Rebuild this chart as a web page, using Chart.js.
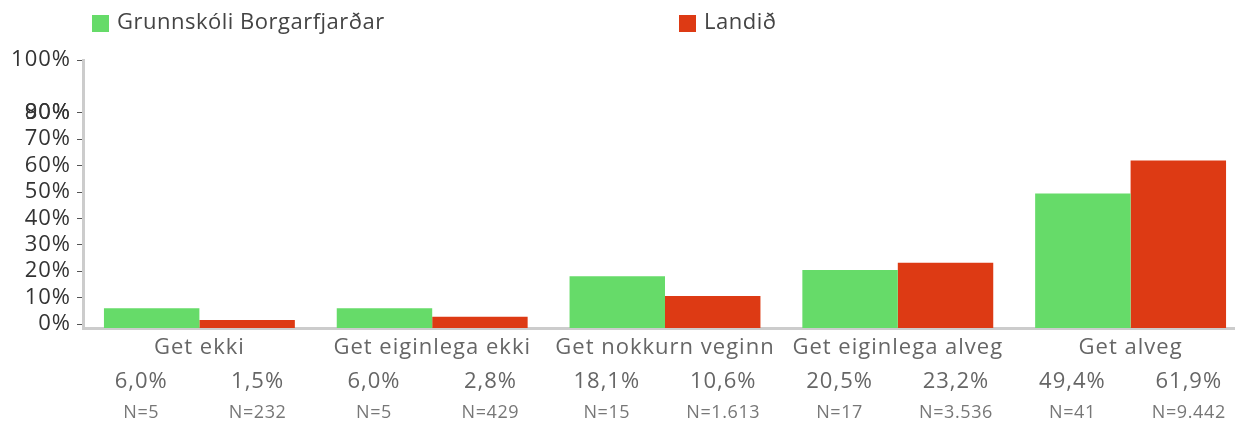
<!DOCTYPE html>
<html>
<head>
<meta charset="utf-8">
<script src="https://cdn.jsdelivr.net/npm/chart.js@4.4.1/dist/chart.umd.min.js"></script>
<style>
  html, body { margin: 0; padding: 0; background: #fff; overflow: hidden; }
  #wrap { width: 1250px; height: 421px; }
</style>
</head>
<body>
<div id="wrap"><canvas id="myChart"></canvas></div>
<script>
'use strict';

/* DATA */

const categories = ['Get ekki', 'Get eiginlega ekki', 'Get nokkurn veginn', 'Get eiginlega alveg', 'Get alveg'];
const schoolLabel = 'Grunnskóli Borgarfjarðar';
const countryLabel = 'Landið';
const schoolValues = [6.0, 6.0, 18.1, 20.5, 49.4];
const countryValues = [1.5, 2.8, 10.6, 23.2, 61.9];
const schoolN = [5, 5, 15, 17, 41];
const countryN = [232, 429, 1613, 3536, 9442];
// 90% sits on top of 80% on the axis
const yTickValues = [0, 10, 20, 30, 40, 50, 60, 70, 80, 80, 100];
const yTickLabels = ['0%', '10%', '20%', '30%', '40%', '50%', '60%', '70%', '80%', '90%', '100%'];

const GREEN = '#66db69';
const RED = '#dd3a14';
const FONT = '"Open Sans", "Noto Sans", sans-serif';

function fmtPct(v) {
  return v.toFixed(1).replace('.', ',') + '%';
}

function fmtN(n) {
  return 'N=' + String(n).replace(/\B(?=(\d{3})+(?!\d))/g, '.');
}

/* WIDER TEXT FOR AXIS LABELS */

const spacing = {
  id: 'spacing',
  beforeDraw(chart) {
    chart.ctx.letterSpacing = '1px';
  }
};

/* LABELS UNDER BARS + LEGEND */

const counts = [schoolN, countryN];

const barLabels = {
  id: 'barLabels',
  afterDraw(chart) {
    const c = chart.ctx;
    const xs = chart.scales.x;
    const quarter = xs.width / categories.length / 4;
    c.save();
    c.textAlign = 'center';
    c.textBaseline = 'middle';
    chart.data.datasets.forEach(function(ds, di) {
      const side = di === 0 ? -1 : 1;
      ds.data.forEach(function(v, i) {
        const x = xs.getPixelForValue(i) + side * quarter;
        c.letterSpacing = '1px';
        c.fillStyle = '#666';
        c.font = '22px ' + FONT;
        c.fillText(fmtPct(v), x, 382);
        c.letterSpacing = '0.6px';
        c.fillStyle = '#777';
        c.font = '18px ' + FONT;
        c.fillText(fmtN(counts[di][i]), x, 413);
      });
    });

    // legend
    const legendX = [92, 679];
    c.textAlign = 'left';
    c.letterSpacing = '0.5px';
    c.font = '22px ' + FONT;
    chart.data.datasets.forEach(function(ds, di) {
      c.fillStyle = ds.backgroundColor;
      c.fillRect(legendX[di], 15, 17, 17);
      c.fillStyle = '#444';
      c.fillText(ds.label, legendX[di] + 25, 23);
    });
    c.restore();
  }
};

/* CHART */

const ctx = document.getElementById('myChart').getContext('2d');
const chart = new Chart(ctx, {
  type: 'bar',
  data: {
    labels: categories,
    datasets: [{
      label: schoolLabel,
      backgroundColor: GREEN,
      data: schoolValues,
      base: -1.5,
    },
    {
      label: countryLabel,
      backgroundColor: RED,
      data: countryValues,
      base: -1.5,
    }]
  },
  options: {
    responsive: true,
    maintainAspectRatio: false,
    animation: false,
    layout: { padding: { top: 60, right: 3, left: 0, bottom: 0 } },
    plugins: {
      legend: { display: false },
      tooltip: { enabled: false },
    },
    datasets: {
      bar: { categoryPercentage: 0.82, barPercentage: 1.0 }
    },
    scales: {
      x: {
        grid: { display: false, drawTicks: false },
        border: { color: '#cccccc', width: 3 },
        ticks: {
          color: '#666',
          font: { family: FONT, size: 22 },
          padding: 7,
          maxRotation: 0,
          autoSkip: false,
        },
        afterFit(scale) { scale.height = 93; }
      },
      y: {
        min: -1.5,
        max: 100,
        afterBuildTicks(scale) {
          scale.ticks = yTickValues.map(function(v) { return { value: v }; });
        },
        grid: {
          drawOnChartArea: false,
          drawTicks: true,
          tickLength: 6,
          tickColor: '#555',
          tickWidth: 1,
        },
        border: { color: '#cccccc', width: 3 },
        ticks: {
          color: '#333',
          font: { family: FONT, size: 22 },
          padding: 6,
          autoSkip: false,
          callback: function(value, index) { return yTickLabels[index]; }
        },
        afterFit(scale) { scale.width = 83; }
      }
    }
  },
  plugins: [spacing, barLabels]
});
</script>
</body>
</html>
